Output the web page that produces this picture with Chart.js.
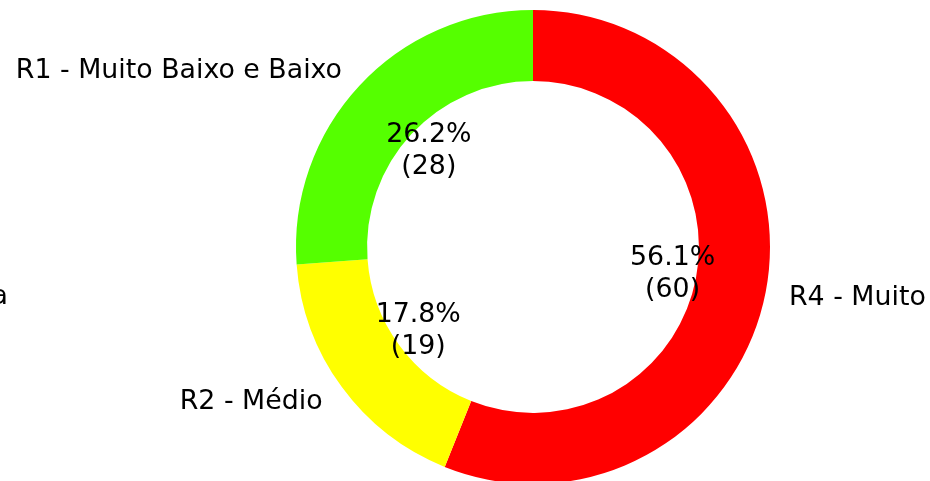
<!DOCTYPE html>
<html>
<head>
<meta charset="utf-8">
<script src="https://cdn.jsdelivr.net/npm/chart.js@4.4.0/dist/chart.umd.min.js"></script>
<style>
  html, body { margin: 0; padding: 0; background: #ffffff; overflow: hidden; width: 930px; height: 481px; }
  #wrap { position: absolute; left: 0; top: 0; width: 930px; height: 494px; }
</style>
</head>
<body>
<div id="wrap"><canvas id="c"></canvas></div>
<script>
// Data (matplotlib order: counter-clockwise from the top)
const categories = ['R1 - Muito Baixo e Baixo', 'R2 - Médio', 'R4 - Muito Alto'];
const counts = [28, 19, 60];
const colors = ['#55ff00', '#ffff00', '#ff0000'];
const sideText = 'R3 - Alta';

// Chart.js draws clockwise, so reverse for the same visual layout
const chartLabels = categories.slice().reverse();
const chartCounts = counts.slice().reverse();
const chartColors = colors.slice().reverse();

const FONT = '26.8px "DejaVu Sans", sans-serif';

const labelPlugin = {
  id: 'pieLabels',
  afterDatasetsDraw(chart) {
    const ctx = chart.ctx;
    const meta = chart.getDatasetMeta(0);
    const data = chart.data.datasets[0].data;
    const total = data.reduce((a, b) => a + b, 0);
    ctx.save();
    ctx.font = FONT;
    ctx.fillStyle = '#000000';
    ctx.textBaseline = 'middle';
    meta.data.forEach((arc, i) => {
      const p = arc.getProps(['x', 'y', 'startAngle', 'endAngle', 'outerRadius'], true);
      const mid = (p.startAngle + p.endAngle) / 2;
      const c = Math.cos(mid), s = Math.sin(mid);
      // category label
      const lx = p.x + c * 1.1 * p.outerRadius;
      const ly = p.y + s * 1.1 * p.outerRadius + 1.5;
      ctx.textAlign = c >= 0 ? 'left' : 'right';
      ctx.fillText(chart.data.labels[i], lx, ly);
      // percentage label
      const px = p.x + c * 0.6 * p.outerRadius;
      const py = p.y + s * 0.6 * p.outerRadius;
      const pct = (data[i] / total * 100).toFixed(1) + '%';
      ctx.textAlign = 'center';
      ctx.fillText(pct, px, py - 15.5);
      ctx.fillText('(' + data[i] + ')', px, py + 16.5);
    });
    // partially visible text at the far left
    ctx.textAlign = 'right';
    ctx.fillText(sideText, 8, 297);
    ctx.restore();
  }
};

new Chart(document.getElementById('c'), {
  type: 'doughnut',
  data: {
    labels: chartLabels,
    datasets: [{
      data: chartCounts,
      backgroundColor: chartColors,
      borderWidth: 0,
      hoverOffset: 0
    }]
  },
  options: {
    responsive: true,
    maintainAspectRatio: false,
    animation: false,
    cutout: '70%',
    layout: { padding: { left: 296, right: 160, top: 10, bottom: 10 } },
    plugins: {
      legend: { display: false },
      tooltip: { enabled: false },
      title: { display: false }
    },
    events: []
  },
  plugins: [labelPlugin]
});
</script>
</body>
</html>
